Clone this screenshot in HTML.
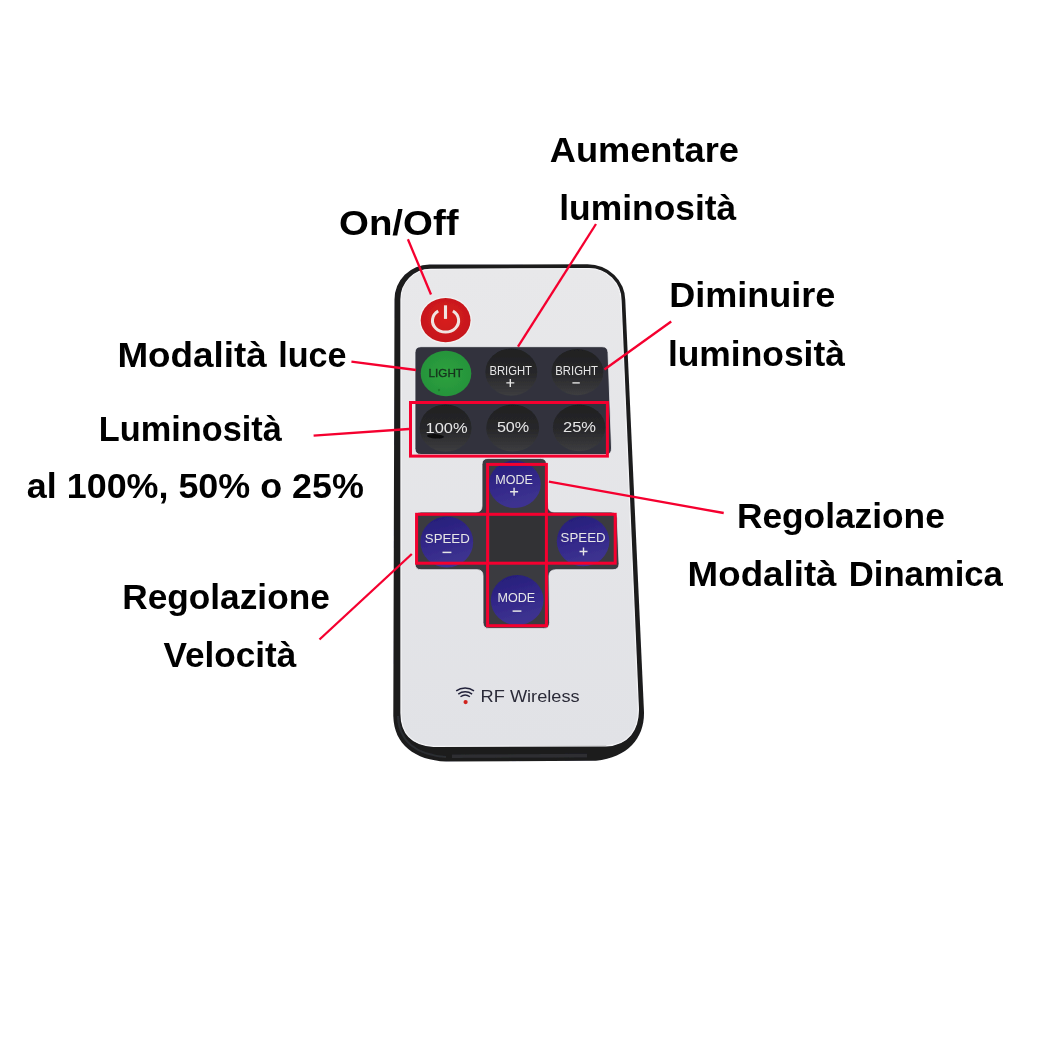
<!DOCTYPE html>
<html>
<head>
<meta charset="utf-8">
<title>Telecomando RF Wireless</title>
<style>
html,body{margin:0;padding:0;background:#fff;}
body{width:1038px;height:1039px;overflow:hidden;font-family:"Liberation Sans",sans-serif;}
svg{display:block;position:absolute;left:0;top:0;}
.lbl{font-family:"Liberation Sans",sans-serif;font-weight:bold;font-size:34.3px;fill:#000;}
.btn{font-family:"Liberation Sans",sans-serif;font-size:13px;fill:#e6e6e6;}
</style>
</head>
<body>
<svg width="1038" height="1039" viewBox="0 0 1038 1039">
<defs>
  <linearGradient id="gDark" x1="0" y1="0" x2="0" y2="1">
    <stop offset="0" stop-color="#1f1f21"/>
    <stop offset="0.55" stop-color="#29292b"/>
    <stop offset="1" stop-color="#3d3d40"/>
  </linearGradient>
  <linearGradient id="gBlue" x1="0" y1="0" x2="0.3" y2="1">
    <stop offset="0" stop-color="#241c78"/>
    <stop offset="0.6" stop-color="#34298a"/>
    <stop offset="1" stop-color="#3d3390"/>
  </linearGradient>
  <radialGradient id="gRed" cx="0.5" cy="0.45" r="0.6">
    <stop offset="0" stop-color="#d8201c"/>
    <stop offset="1" stop-color="#c4151a"/>
  </radialGradient>
  <radialGradient id="gGreen" cx="0.5" cy="0.5" r="0.6">
    <stop offset="0" stop-color="#2fa23e"/>
    <stop offset="1" stop-color="#23913a"/>
  </radialGradient>
  <linearGradient id="gFace" x1="0" y1="0" x2="0" y2="1">
    <stop offset="0" stop-color="#e8e8ea"/>
    <stop offset="1" stop-color="#e1e2e6"/>
  </linearGradient>
  <filter id="soft" x="-5%" y="-5%" width="110%" height="110%"><feGaussianBlur stdDeviation="0.45"/></filter>
  <filter id="soft2" x="-2%" y="-20%" width="104%" height="140%"><feGaussianBlur stdDeviation="0.3"/></filter>
</defs>
<rect width="1038" height="1039" fill="#ffffff"/>

<g filter="url(#soft)">
<!-- remote body -->
<g id="remote">
  <path d="M394.5 299.5 A35 35 0 0 1 429.5 264.5 L587.5 264.3 A38 36 0 0 1 625.3 300.5 L644 712 C644.5 738 628 757 596 760.8 L446 761.6 C415 760 394 745 393.3 716 Z" fill="#1b1b1e"/>
  <path d="M398 716 C399 742 417 755 446 757" stroke="#2c2d30" stroke-width="2.2" fill="none"/>
  <path d="M401 299.5 A29.5 30 0 0 1 430.5 269.3 L589 268.6 A32 32 0 0 1 621 300.5 L638.3 708 C639 730 628 745 606 745.8 L433.6 746.3 C412 745 401.1 734 401 713 Z" fill="url(#gFace)" stroke="#f4f4f6" stroke-width="1.3"/>
  <path d="M452 756.3 L587 755.6" stroke="#2d2e31" stroke-width="3.6" fill="none"/>
</g>

<!-- power -->
<ellipse cx="445.6" cy="320.2" rx="26.3" ry="23.5" fill="#f2f1f1"/>
<ellipse cx="445.6" cy="320.2" rx="24.9" ry="22.1" fill="url(#gRed)"/>
<path d="M438.2 311 A13.1 11.55 0 1 0 452.9 311" fill="none" stroke="#f0e4e1" stroke-width="3"/>
<line x1="445.5" y1="305.3" x2="445.5" y2="318.9" stroke="#f0e4e1" stroke-width="3.1"/>

<!-- top keypad panel -->
<path d="M421 346.7 L602 346.7 Q607.8 346.7 608 352.5 L611.5 448 Q611.7 454.5 606 454.5 L421 454.5 Q415 454.5 415 448.5 L415 352.7 Q415 346.7 421 346.7 Z" fill="#31333d" stroke="#eeeef1" stroke-width="0.8"/>
<ellipse cx="446" cy="373.5" rx="25.3" ry="22.8" fill="url(#gGreen)"/>
<ellipse cx="511.3" cy="372.1" rx="26" ry="23.6" fill="url(#gDark)"/>
<ellipse cx="577.4" cy="372.1" rx="26" ry="23.2" fill="url(#gDark)"/>
<ellipse cx="445.6" cy="428.1" rx="26" ry="23.7" fill="url(#gDark)"/>
<ellipse cx="512.7" cy="428" rx="26.5" ry="23.6" fill="url(#gDark)"/>
<ellipse cx="579.1" cy="427.8" rx="26.3" ry="23.4" fill="url(#gDark)"/>

<ellipse cx="435.5" cy="436.3" rx="8.5" ry="2.2" fill="#0b0b0c" opacity="0.85" transform="rotate(4 435.5 436.3)"/>
<circle cx="439" cy="390" r="1.2" fill="#1d7d30"/>
<text x="428.5" y="376.9" class="btn" style="fill:#16331f;font-size:11.8px;stroke:#16331f;stroke-width:0.35" textLength="34.5" lengthAdjust="spacingAndGlyphs">LIGHT</text>
<text x="489.4" y="374.5" class="btn" style="font-size:12.4px" textLength="42.5" lengthAdjust="spacingAndGlyphs">BRIGHT</text>
<text x="555.3" y="374.5" class="btn" style="font-size:12.4px" textLength="42.7" lengthAdjust="spacingAndGlyphs">BRIGHT</text>
<path d="M506.3 382.9 H514.3 M510.3 378.9 V386.9" stroke="#e6e6e6" stroke-width="1.4" fill="none"/>
<path d="M572.4 382.9 H579.8" stroke="#d8d8d8" stroke-width="1.5" fill="none"/>
<text x="425.6" y="432.5" class="btn" style="font-size:14px" textLength="42" lengthAdjust="spacingAndGlyphs">100%</text>
<text x="496.9" y="432.2" class="btn" style="font-size:14px" textLength="32.3" lengthAdjust="spacingAndGlyphs">50%</text>
<text x="563" y="432.2" class="btn" style="font-size:14px" textLength="33" lengthAdjust="spacingAndGlyphs">25%</text>

<!-- cross panel -->
<path d="M488 458.4 L540.5 458.4 Q546.3 458.4 546.5 464 L548.2 506 Q548.4 512 554 512 L611 512 Q617 512 617.2 518 L619 563.7 Q619.2 569.7 613 569.7 L556 569.7 Q549 569.7 549 576 L549.6 622.4 Q549.6 628.4 543.6 628.4 L489 628.4 Q483 628.4 483 622.4 L483 575.7 Q483 569.7 477 569.7 L421 569.7 Q415 569.7 415 563.7 L415 518 Q415 512 421 512 L476 512 Q482 512 482 506 L482 464.4 Q482 458.4 488 458.4 Z" fill="#3a3a41" stroke="#eeeef1" stroke-width="0.8"/>
<rect x="490" y="516" width="55" height="46" fill="#323236"/>
<ellipse cx="514.7" cy="484.3" rx="26" ry="23.7" fill="url(#gBlue)"/>
<ellipse cx="446.8" cy="542" rx="26.4" ry="25.5" fill="url(#gBlue)"/>
<ellipse cx="583.1" cy="541.2" rx="26.3" ry="25" fill="url(#gBlue)"/>
<ellipse cx="517.2" cy="600.1" rx="26.4" ry="25" fill="url(#gBlue)"/>
<text x="495.3" y="483.7" class="btn" textLength="37.7" lengthAdjust="spacingAndGlyphs">MODE</text>
<path d="M510.1 491.7 H518.1 M514.1 487.7 V495.7" stroke="#e6e6e6" stroke-width="1.4" fill="none"/>
<text x="424.8" y="543.1" class="btn" textLength="45" lengthAdjust="spacingAndGlyphs">SPEED</text>
<path d="M442.5 552.4 H451.4" stroke="#e6e6e6" stroke-width="1.5" fill="none"/>
<text x="560.6" y="542" class="btn" textLength="45" lengthAdjust="spacingAndGlyphs">SPEED</text>
<path d="M579.5 551.5 H587.5 M583.5 547.5 V555.5" stroke="#e6e6e6" stroke-width="1.4" fill="none"/>
<text x="497.5" y="601.8" class="btn" textLength="37.7" lengthAdjust="spacingAndGlyphs">MODE</text>
<path d="M512.6 611.1 H521.4" stroke="#e6e6e6" stroke-width="1.5" fill="none"/>

<!-- RF Wireless -->
<g fill="none" stroke="#23233a" stroke-width="1.4">
  <path d="M456.2 690.9 A15 15 0 0 1 474.0 690.9"/>
  <path d="M458.3 694.1 A11.3 11.3 0 0 1 472.1 694.1"/>
  <path d="M460.5 696.8 A7.8 7.8 0 0 1 469.9 696.8"/>
</g>
<circle cx="465.6" cy="702.1" r="2.1" fill="#d0201e"/>
<text x="480.6" y="702.3" style="font-family:'Liberation Sans',sans-serif;font-size:16px;fill:#2b2b38" textLength="99" lengthAdjust="spacingAndGlyphs">RF Wireless</text>

</g>

<!-- red annotation boxes -->
<g fill="none" stroke="#f5002f" stroke-width="3">
  <rect x="410.5" y="402.5" width="196.9" height="53.6"/>
  <rect x="487.6" y="464.4" width="58.8" height="161.3"/>
  <rect x="416.6" y="514.3" width="198.6" height="48.9"/>
</g>
<!-- leader lines -->
<g fill="none" stroke="#f5002f" stroke-width="2.3">
  <line x1="407.9" y1="239.3" x2="431" y2="294.5"/>
  <line x1="596" y1="224" x2="518" y2="346.7"/>
  <line x1="671.2" y1="321.5" x2="604.4" y2="369.5"/>
  <line x1="351.4" y1="361.6" x2="416" y2="370"/>
  <line x1="313.6" y1="435.6" x2="409" y2="429"/>
  <line x1="548.9" y1="481.7" x2="723.7" y2="513"/>
  <line x1="411.8" y1="554" x2="319.5" y2="639.5"/>
</g>

<!-- labels -->
<g class="lbl" filter="url(#soft2)">
  <text x="338.97" y="234.7" textLength="119.61" lengthAdjust="spacingAndGlyphs">On/Off</text>
  <text x="549.72" y="162" textLength="189.23" lengthAdjust="spacingAndGlyphs">Aumentare</text>
  <text x="559.29" y="219.7" textLength="176.96" lengthAdjust="spacingAndGlyphs">luminosità</text>
  <text x="669.2" y="307.3" textLength="166.17" lengthAdjust="spacingAndGlyphs">Diminuire</text>
  <text x="667.9" y="365.9" textLength="177.01" lengthAdjust="spacingAndGlyphs">luminosità</text>
  <text x="117.42" y="367" textLength="149.46" lengthAdjust="spacingAndGlyphs">Modalità</text>
  <text x="278.21" y="367" textLength="68.31" lengthAdjust="spacingAndGlyphs">luce</text>
  <text x="98.86" y="440.6" textLength="182.93" lengthAdjust="spacingAndGlyphs">Luminosità</text>
  <text x="26.88" y="498.4" textLength="336.94" lengthAdjust="spacingAndGlyphs">al 100%, 50% o 25%</text>
  <text x="736.94" y="528.3" textLength="207.85" lengthAdjust="spacingAndGlyphs">Regolazione</text>
  <text x="687.64" y="585.8" textLength="148.93" lengthAdjust="spacingAndGlyphs">Modalità</text>
  <text x="848.77" y="585.8" textLength="154.08" lengthAdjust="spacingAndGlyphs">Dinamica</text>
  <text x="122.25" y="608.9" textLength="207.52" lengthAdjust="spacingAndGlyphs">Regolazione</text>
  <text x="163.42" y="666.8" textLength="132.97" lengthAdjust="spacingAndGlyphs">Velocità</text>
</g>
</svg>
</body>
</html>
